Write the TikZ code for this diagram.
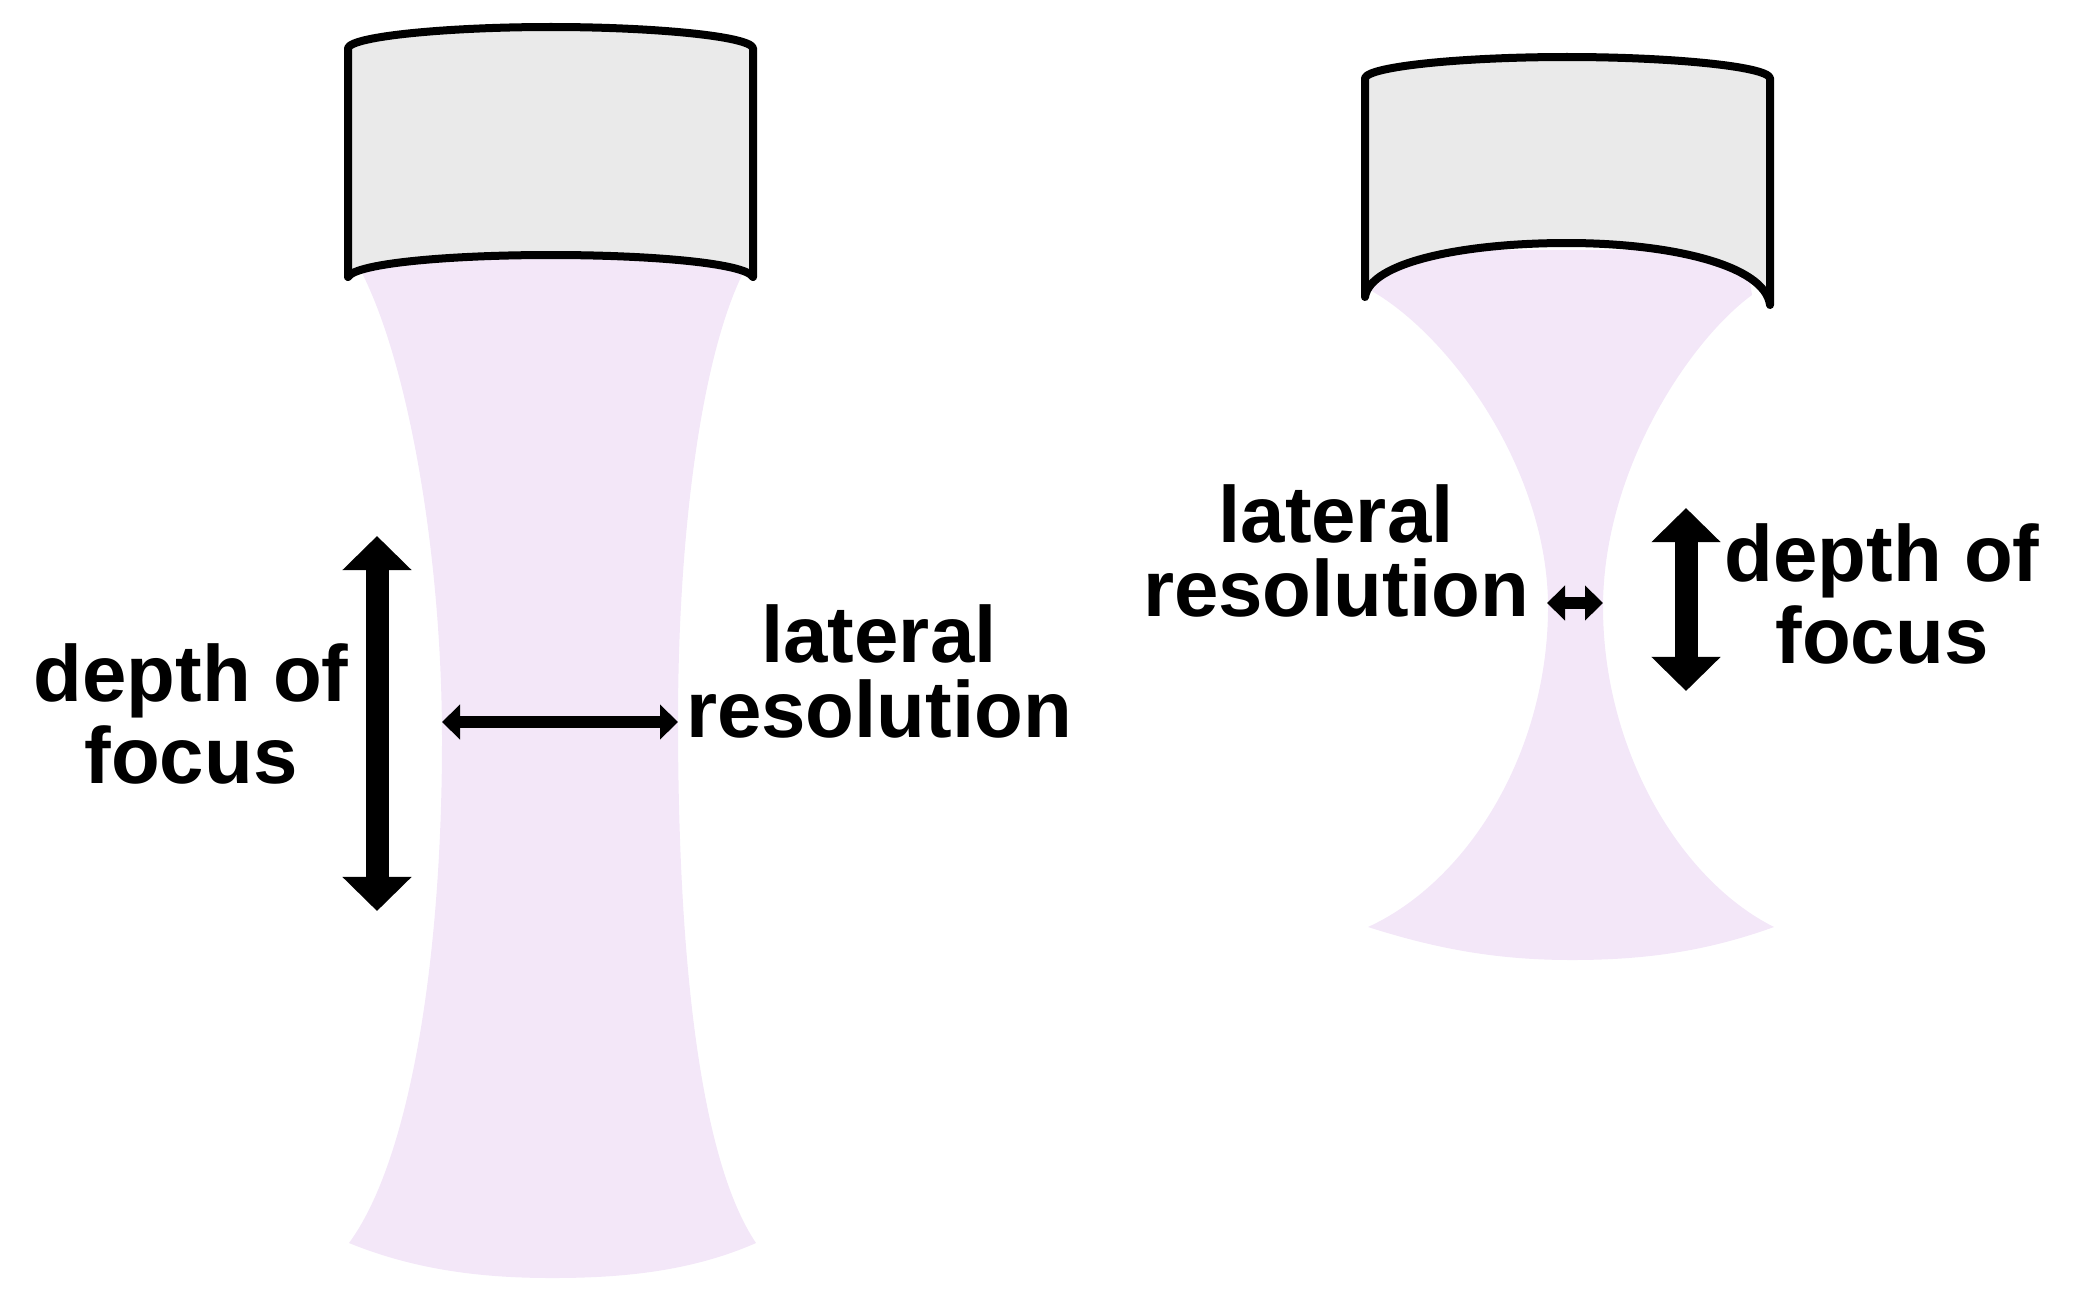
\documentclass[tikz,border=0pt]{standalone}
\usepackage{fontspec}
\setmainfont{Liberation Sans}
\usetikzlibrary{arrows.meta}

\definecolor{lensgray}{RGB}{234,234,234}
\definecolor{beamlilac}{RGB}{243,231,248}

\begin{document}
\begin{tikzpicture}[
    x=0.01cm, y=-0.01cm,
    lens/.style={draw=black, fill=lensgray, line width=0.08cm, line join=round, line cap=round},
    beam/.style={fill=beamlilac},
    bigarrow/.style={line width=0.23cm,
        {Triangle[length=0.34cm, width=0.67cm]}-{Triangle[length=0.34cm, width=0.67cm]}},
    smallarrow/.style={line width=0.12cm,
        {Triangle[length=0.18cm, width=0.34cm]}-{Triangle[length=0.18cm, width=0.34cm]}},
    annot/.style={font=\bfseries\fontsize{22.7pt}{#1}\selectfont, align=center, inner sep=0pt},
    annot/.default=23.2pt,
]

\useasboundingbox (0,0) rectangle (2086,1309);

% ---- Beams (drawn first, the lenses sit on top) ----
% long-focus beam: wide waist
\fill[beam] (363,275) .. controls (410,370) and (442,560) .. (442,740)
    .. controls (442,960) and (410,1160) .. (349,1243)
    .. controls (420,1272) and (490,1278) .. (552,1278)
    .. controls (620,1278) and (690,1272) .. (756,1243)
    .. controls (700,1160) and (678,960) .. (678,720)
    .. controls (678,540) and (700,360) .. (743,273)
    -- (735,250) -- (370,250) -- cycle;

% short-focus beam: narrow waist
\fill[beam] (1370,290) .. controls (1450,335) and (1548,470) .. (1548,607)
    .. controls (1548,750) and (1470,880) .. (1368,927)
    .. controls (1440,950) and (1500,960) .. (1572,960)
    .. controls (1650,960) and (1710,950) .. (1774,927)
    .. controls (1680,880) and (1603,750) .. (1603,607)
    .. controls (1603,470) and (1690,340) .. (1752,295)
    -- (1745,250) -- (1380,250) -- cycle;

% ---- Lenses ----
\draw[lens] (348,277) -- (348,48)
    .. controls (352,36) and (450,27) .. (551,27)
    .. controls (652,27) and (749,36) .. (753,48)
    -- (753,277)
    .. controls (745,263) and (650,255) .. (551,255)
    .. controls (452,255) and (356,263) .. (348,277) -- cycle;

\draw[lens] (1365,297) -- (1365,78)
    .. controls (1369,66) and (1466,57) .. (1567,57)
    .. controls (1668,57) and (1766,66) .. (1770,78)
    -- (1770,305)
    .. controls (1765,265) and (1670,243) .. (1567,243)
    .. controls (1464,243) and (1370,262) .. (1365,297) -- cycle;

% ---- Arrow end points ----
\coordinate (dofLtop) at (377,536);
\coordinate (dofLbot) at (377,911);
\coordinate (latLl) at (442,722);
\coordinate (latLr) at (678,722);
\coordinate (latRl) at (1547,603);
\coordinate (latRr) at (1603,603);
\coordinate (dofRtop) at (1686,508);
\coordinate (dofRbot) at (1686,691);

\draw[bigarrow] (dofLtop) -- (dofLbot);
\draw[smallarrow] (latLl) -- (latLr);
\draw[smallarrow] (latRl) -- (latRr);
\draw[bigarrow] (dofRtop) -- (dofRbot);

% ---- Labels ----
\node[annot] (dofL) at (191,714) {depth of\\focus};
\node[annot=21.3pt] (latL) at (879,671) {lateral\\resolution};
\node[annot=21.3pt] (latR) at (1336,551) {lateral\\resolution};
\node[annot] (dofR) at (1882,594) {depth of\\focus};

\end{tikzpicture}
\end{document}
